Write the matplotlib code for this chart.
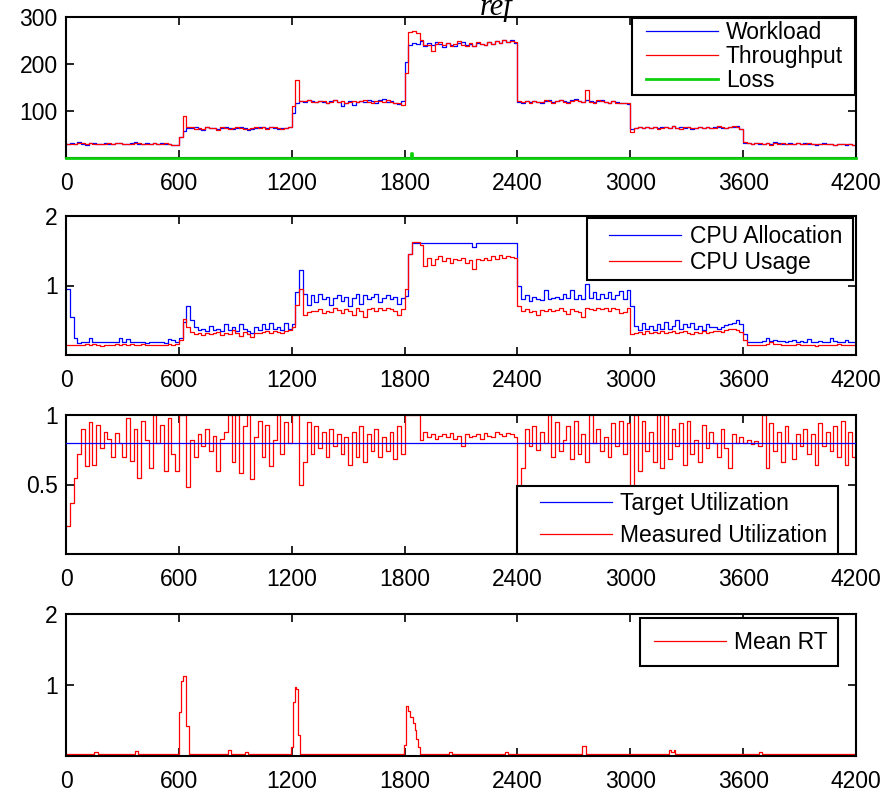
import numpy as np
import matplotlib
matplotlib.use("Agg")
import matplotlib.pyplot as plt
from matplotlib.path import Path

plt.rcParams['font.family'] = ['Liberation Sans', 'DejaVu Sans']

# ---------------------------------------------------------------------------
# Data: one sample every 20 s over a 4200 s run (210 samples per series)
# ---------------------------------------------------------------------------
step_s = 20
t_end = 4200
x_ticks = [0, 600, 1200, 1800, 2400, 3000, 3600, 4200]

workload = [
    30, 31, 29, 33, 30, 28, 32, 31, 30, 29, 31, 30, 30, 32, 31, 30, 29, 31, 33, 30, 30, 31, 29, 32, 30, 31, 30, 29, 28, 27,
    45, 58, 64, 63, 66, 62, 60, 65, 64, 63, 62, 64, 66, 63, 62, 64, 65, 63, 60, 62, 64, 66, 65, 63, 67, 64, 62, 63, 64, 66,
    95, 118, 122, 120, 123, 121, 119, 122, 120, 118, 121, 124, 120, 110, 118, 121, 112, 120, 122, 119, 123, 121, 118, 124, 126, 120, 122, 118, 115, 121,
    205, 240, 244, 242, 248, 238, 244, 240, 246, 242, 237, 245, 241, 239, 244, 247, 240, 243, 238, 245, 242, 240, 246, 243, 248, 244, 250, 246, 252, 245,
    120, 118, 121, 119, 122, 120, 117, 121, 123, 120, 122, 124, 121, 119, 123, 125, 122, 120, 124, 121, 119, 122, 123, 120, 118, 121, 119, 117, 116, 115,
    62, 64, 66, 63, 65, 64, 67, 63, 65, 66, 64, 68, 63, 65, 64, 66, 62, 64, 65, 63, 66, 64, 65, 67, 63, 64, 66, 65, 68, 62,
    32, 31, 30, 32, 30, 29, 31, 30, 33, 31, 30, 29, 31, 30, 32, 30, 31, 29, 30, 28, 30, 31, 29, 30, 28, 29, 30, 28, 29, 27,
]

throughput = [
    30, 30, 30, 32, 31, 29, 31, 30, 30, 30, 30, 31, 30, 31, 31, 30, 30, 30, 32, 31, 30, 30, 30, 31, 30, 30, 31, 30, 28, 27,
    45, 90, 65, 66, 62, 64, 61, 66, 63, 64, 60, 65, 64, 62, 63, 66, 64, 62, 61, 63, 65, 64, 66, 62, 66, 65, 63, 62, 64, 65,
    110, 165, 121, 121, 124, 120, 119, 121, 122, 118, 120, 123, 119, 121, 118, 120, 122, 119, 121, 124, 120, 118, 121, 122, 120, 123, 119, 116, 118, 113,
    180, 268, 271, 266, 252, 241, 240, 228, 243, 246, 240, 244, 238, 242, 248, 241, 239, 244, 238, 246, 243, 240, 247, 242, 249, 244, 252, 246, 248, 246,
    121, 119, 122, 118, 121, 120, 119, 123, 121, 118, 122, 124, 120, 118, 122, 124, 121, 119, 145, 120, 118, 123, 121, 120, 117, 122, 118, 116, 117, 116,
    55, 63, 65, 64, 66, 63, 66, 62, 64, 67, 63, 68, 64, 62, 65, 67, 63, 64, 65, 64, 66, 63, 64, 68, 65, 64, 67, 68, 66, 62,
    33, 31, 30, 31, 31, 30, 32, 28, 31, 30, 31, 30, 30, 29, 31, 30, 30, 31, 30, 29, 30, 30, 30, 29, 28, 30, 30, 29, 29, 28,
]

# dropped requests: change points (s) and level held after each one
loss_t = [0, 1832, 1842, 4200]
loss_v = [0, 10, 0]

cpu_alloc = [
    0.95, 0.55, 0.25, 0.17, 0.18, 0.19, 0.24, 0.19, 0.19, 0.18, 0.19, 0.19, 0.19, 0.19, 0.24, 0.19, 0.23, 0.19, 0.18, 0.19, 0.19, 0.17, 0.19, 0.19, 0.18, 0.19, 0.17, 0.23, 0.22, 0.19,
    0.24, 0.48, 0.70, 0.50, 0.40, 0.36, 0.38, 0.34, 0.42, 0.36, 0.38, 0.34, 0.44, 0.36, 0.41, 0.34, 0.44, 0.38, 0.35, 0.32, 0.40, 0.36, 0.44, 0.38, 0.46, 0.37, 0.41, 0.36, 0.46, 0.38,
    0.45, 0.90, 1.23, 0.88, 0.72, 0.86, 0.76, 0.88, 0.80, 0.84, 0.72, 0.82, 0.86, 0.78, 0.84, 0.70, 0.82, 0.88, 0.74, 0.86, 0.80, 0.84, 0.88, 0.76, 0.82, 0.86, 0.80, 0.84, 0.74, 0.82,
    0.85, 1.45, 1.61, 1.61, 1.61, 1.61, 1.61, 1.61, 1.61, 1.61, 1.61, 1.61, 1.61, 1.61, 1.61, 1.61, 1.61, 1.61, 1.56, 1.61, 1.61, 1.61, 1.61, 1.61, 1.61, 1.61, 1.61, 1.61, 1.61, 1.61,
    1.00, 0.80, 0.86, 0.78, 0.84, 0.80, 0.79, 0.94, 0.80, 0.82, 0.84, 0.80, 0.88, 0.82, 0.93, 0.80, 0.86, 0.80, 1.02, 0.82, 0.90, 0.80, 0.88, 0.82, 0.90, 0.80, 0.86, 0.92, 0.80, 0.94,
    0.70, 0.42, 0.36, 0.46, 0.38, 0.42, 0.36, 0.44, 0.38, 0.48, 0.37, 0.42, 0.50, 0.38, 0.44, 0.40, 0.46, 0.38, 0.42, 0.36, 0.44, 0.40, 0.41, 0.38, 0.40, 0.43, 0.44, 0.46, 0.50, 0.44,
    0.30, 0.19, 0.19, 0.19, 0.19, 0.20, 0.24, 0.20, 0.21, 0.20, 0.20, 0.19, 0.20, 0.21, 0.19, 0.20, 0.19, 0.23, 0.19, 0.19, 0.20, 0.19, 0.19, 0.24, 0.20, 0.19, 0.18, 0.22, 0.19, 0.19,
]

cpu_usage = [
    0.14, 0.15, 0.15, 0.14, 0.15, 0.16, 0.14, 0.16, 0.15, 0.13, 0.15, 0.14, 0.15, 0.16, 0.15, 0.16, 0.14, 0.16, 0.15, 0.15, 0.16, 0.14, 0.15, 0.15, 0.15, 0.14, 0.15, 0.16, 0.15, 0.16,
    0.22, 0.52, 0.40, 0.33, 0.30, 0.31, 0.29, 0.32, 0.30, 0.31, 0.33, 0.29, 0.32, 0.30, 0.36, 0.31, 0.28, 0.33, 0.30, 0.26, 0.32, 0.31, 0.33, 0.34, 0.32, 0.35, 0.33, 0.32, 0.34, 0.36,
    0.40, 0.72, 0.95, 0.58, 0.62, 0.64, 0.63, 0.66, 0.60, 0.64, 0.62, 0.68, 0.65, 0.60, 0.66, 0.63, 0.58, 0.67, 0.64, 0.55, 0.66, 0.68, 0.63, 0.67, 0.65, 0.68, 0.66, 0.64, 0.58, 0.66,
    0.95, 1.45, 1.62, 1.63, 1.58, 1.28, 1.40, 1.30, 1.38, 1.42, 1.35, 1.40, 1.33, 1.38, 1.36, 1.40, 1.32, 1.37, 1.24, 1.38, 1.36, 1.40, 1.37, 1.42, 1.38, 1.44, 1.40, 1.42, 1.41, 1.39,
    0.70, 0.64, 0.66, 0.62, 0.64, 0.58, 0.65, 0.64, 0.66, 0.63, 0.65, 0.67, 0.64, 0.59, 0.66, 0.64, 0.62, 0.55, 0.68, 0.66, 0.65, 0.68, 0.66, 0.67, 0.64, 0.68, 0.66, 0.60, 0.62, 0.68,
    0.30, 0.32, 0.33, 0.30, 0.34, 0.31, 0.33, 0.32, 0.34, 0.31, 0.33, 0.35, 0.31, 0.33, 0.34, 0.32, 0.30, 0.33, 0.32, 0.34, 0.31, 0.33, 0.35, 0.34, 0.33, 0.36, 0.37, 0.38, 0.36, 0.33,
    0.22, 0.15, 0.15, 0.15, 0.15, 0.14, 0.16, 0.18, 0.16, 0.16, 0.15, 0.15, 0.15, 0.15, 0.16, 0.15, 0.15, 0.15, 0.15, 0.13, 0.15, 0.15, 0.14, 0.15, 0.15, 0.16, 0.15, 0.14, 0.15, 0.15,
]

target_util = 0.8

measured_util = [
    0.20, 0.37, 0.55, 0.72, 0.90, 0.63, 0.95, 0.64, 0.93, 0.76, 0.88, 0.83, 0.70, 0.87, 0.80, 0.70, 0.98, 0.67, 0.90, 0.55, 0.96, 0.82, 0.62, 1.00, 0.80, 0.93, 0.60, 0.98, 0.72, 0.60,
    1.00, 1.00, 0.48, 0.82, 0.70, 0.86, 0.78, 0.90, 0.74, 0.85, 0.60, 0.83, 0.88, 1.00, 0.66, 1.00, 0.58, 0.92, 1.00, 0.54, 0.84, 0.96, 0.70, 0.93, 0.63, 0.82, 1.00, 0.72, 0.95, 0.80,
    1.00, 1.00, 0.50, 0.66, 0.95, 0.72, 0.92, 0.76, 0.88, 0.70, 0.90, 0.78, 0.86, 0.72, 0.84, 0.64, 0.88, 0.70, 0.92, 0.66, 0.86, 0.74, 0.90, 0.70, 0.84, 0.74, 0.88, 0.68, 0.92, 0.72,
    1.00, 1.00, 1.00, 1.00, 0.82, 0.88, 0.84, 0.86, 0.83, 0.85, 0.86, 0.84, 0.87, 0.83, 0.85, 0.78, 0.86, 0.84, 0.85, 0.86, 0.83, 0.87, 0.85, 0.84, 0.88, 0.86, 0.85, 0.87, 0.86, 0.84,
    0.42, 0.62, 0.90, 0.78, 0.92, 0.75, 0.88, 0.80, 1.00, 0.70, 0.95, 0.74, 0.82, 0.92, 0.68, 0.96, 0.72, 0.86, 0.66, 1.00, 0.80, 0.90, 0.74, 0.84, 0.70, 0.94, 0.78, 0.96, 0.72, 0.94,
    0.48, 1.00, 0.60, 0.96, 0.74, 0.88, 0.66, 1.00, 0.62, 1.00, 0.68, 0.90, 0.78, 0.94, 0.64, 0.96, 0.72, 0.82, 0.66, 0.93, 0.76, 0.88, 0.80, 0.70, 0.90, 0.76, 0.62, 0.86, 0.80, 0.84,
    0.80, 0.82, 0.79, 0.81, 0.78, 1.00, 0.62, 0.94, 0.74, 0.88, 0.66, 0.92, 0.80, 0.68, 0.86, 0.78, 0.90, 0.72, 0.86, 0.64, 0.94, 0.78, 0.88, 0.74, 0.92, 0.70, 0.96, 0.64, 0.88, 0.70,
]

# mean response time: change points (s) and level held after each one
rt_t = [0, 150, 170, 365, 385, 600, 610, 620, 640, 655,
        860, 875, 950, 965, 1195, 1205, 1215, 1225, 1235, 1245,
        1795, 1805, 1818, 1827, 1846, 1853, 1862, 1871, 1882,
        2035, 2050, 2335, 2350, 2745, 2765, 3205, 3218, 3230, 3240, 3685, 3700, 4200]
rt_v = [0.03, 0.05, 0.03, 0.07, 0.03, 0.62, 1.06, 1.12, 0.42, 0.03,
        0.08, 0.03, 0.05, 0.03, 0.13, 0.76, 0.97, 0.95, 0.30, 0.03,
        0.15, 0.70, 0.64, 0.55, 0.46, 0.37, 0.24, 0.12, 0.03,
        0.05, 0.03, 0.05, 0.03, 0.14, 0.03, 0.09, 0.05, 0.08, 0.03, 0.05, 0.03]

# ---------------------------------------------------------------------------
BLUE = (0.0, 0.0, 1.0)
RED = (1.0, 0.0, 0.0)
GREEN = (0.05, 0.82, 0.05)
FS = 16.5
LW = 0.9
SPINE_LW = 1.5

grid_edges = np.arange(0, t_end + step_s, step_s)

fig = plt.figure(figsize=(8.88, 7.94), dpi=100)
W, H = 888.0, 794.0
AX_W = 790.0


def stair_line(ax, edges, values, **kw):
    """Draw a zero-order-hold series held from edges[i] to edges[i+1]."""
    x = np.asarray(edges, dtype=float)
    y = np.append(np.asarray(values, dtype=float), values[-1])
    return ax.plot(x, y, drawstyle='steps-post', **kw)[0]


def style_axes(ax, ylim, yticks):
    ax.set_xlim(0, t_end)
    ax.set_ylim(*ylim)
    ax.set_xticks(x_ticks)
    ax.set_xticklabels([str(v) for v in x_ticks])
    ax.set_yticks(yticks)
    ax.set_yticklabels([('%g' % v) for v in yticks])
    ax.tick_params(axis='both', direction='in', length=6, width=1.2,
                   top=True, right=True, labelsize=FS, colors='black')
    ax.tick_params(axis='x', pad=10)
    ax.tick_params(axis='y', pad=6)
    for sp in ax.spines.values():
        sp.set_linewidth(SPINE_LW)
        sp.set_color('black')


def wide_square(extra_left, extra_right):
    """Square legend frame with extra horizontal room (pixels) on each side."""
    def style(x0, y0, width, height, mutation_size):
        xa = x0 - extra_left
        xb = x0 + width + extra_right
        return Path([(xa, y0), (xb, y0), (xb, y0 + height), (xa, y0 + height), (xa, y0)],
                    closed=True)
    return style


def add_legend(ax, loc, anchor, borderpad, labelspacing, extra_left, extra_right,
               handletextpad=0.35):
    leg = ax.legend(loc=loc, bbox_to_anchor=anchor, borderaxespad=0.0,
                    fontsize=FS, fancybox=False, handlelength=3.15,
                    handletextpad=handletextpad, labelspacing=labelspacing,
                    borderpad=borderpad)
    fr = leg.get_frame()
    fr.set_boxstyle(wide_square(extra_left, extra_right))
    fr.set_edgecolor('black')
    fr.set_linewidth(SPINE_LW)
    fr.set_facecolor('white')
    fr.set_alpha(1.0)
    return leg


left, width = 66 / W, AX_W / W
ax1 = fig.add_axes([left, 1 - 158 / H, width, 141 / H])
ax2 = fig.add_axes([left, 1 - 355 / H, width, 139 / H])
ax3 = fig.add_axes([left, 1 - 554 / H, width, 139 / H])
ax4 = fig.add_axes([left, 1 - 756 / H, width, 142 / H])

# --- workload / throughput / loss ---
stair_line(ax1, grid_edges, workload, color=BLUE, lw=LW, label='Workload')
stair_line(ax1, grid_edges, throughput, color=RED, lw=LW, label='Throughput')
stair_line(ax1, loss_t, loss_v, color=GREEN, lw=2.0, label='Loss',
           clip_on=False, zorder=5)
style_axes(ax1, (0, 300), [100, 200, 300])
add_legend(ax1, 'upper right', (0.987, 0.993), borderpad=0.12, labelspacing=0.05,
           extra_left=11, extra_right=9)
fig.text(496 / W, 1 - 15 / H, 'ref', ha='center', va='baseline', fontsize=22,
         family=['Liberation Serif', 'DejaVu Serif'], style='italic')

# --- CPU allocation vs usage ---
stair_line(ax2, grid_edges, cpu_alloc, color=BLUE, lw=LW, label='CPU Allocation')
stair_line(ax2, grid_edges, cpu_usage, color=RED, lw=LW, label='CPU Usage')
style_axes(ax2, (0, 2), [1, 2])
add_legend(ax2, 'upper right', (0.991, 0.986), borderpad=0.3, labelspacing=0.12,
           extra_left=15, extra_right=4, handletextpad=0.39)

# --- utilization ---
ax3.plot([0, t_end], [target_util, target_util], color=BLUE, lw=LW,
         label='Target Utilization', zorder=3)
stair_line(ax3, grid_edges, measured_util, color=RED, lw=LW,
           label='Measured Utilization', zorder=2)
style_axes(ax3, (0, 1), [0.5, 1])
add_legend(ax3, 'lower right', (0.972, 0.0), borderpad=0.3, labelspacing=0.38,
           extra_left=16, extra_right=4)

# --- response time ---
stair_line(ax4, rt_t, rt_v, color=RED, lw=LW, label='Mean RT')
style_axes(ax4, (0, 2), [1, 2])
add_legend(ax4, 'upper right', (0.9805, 0.972), borderpad=0.55, labelspacing=0.0,
           extra_left=2, extra_right=-3)

fig.savefig('out.png', dpi=100)
